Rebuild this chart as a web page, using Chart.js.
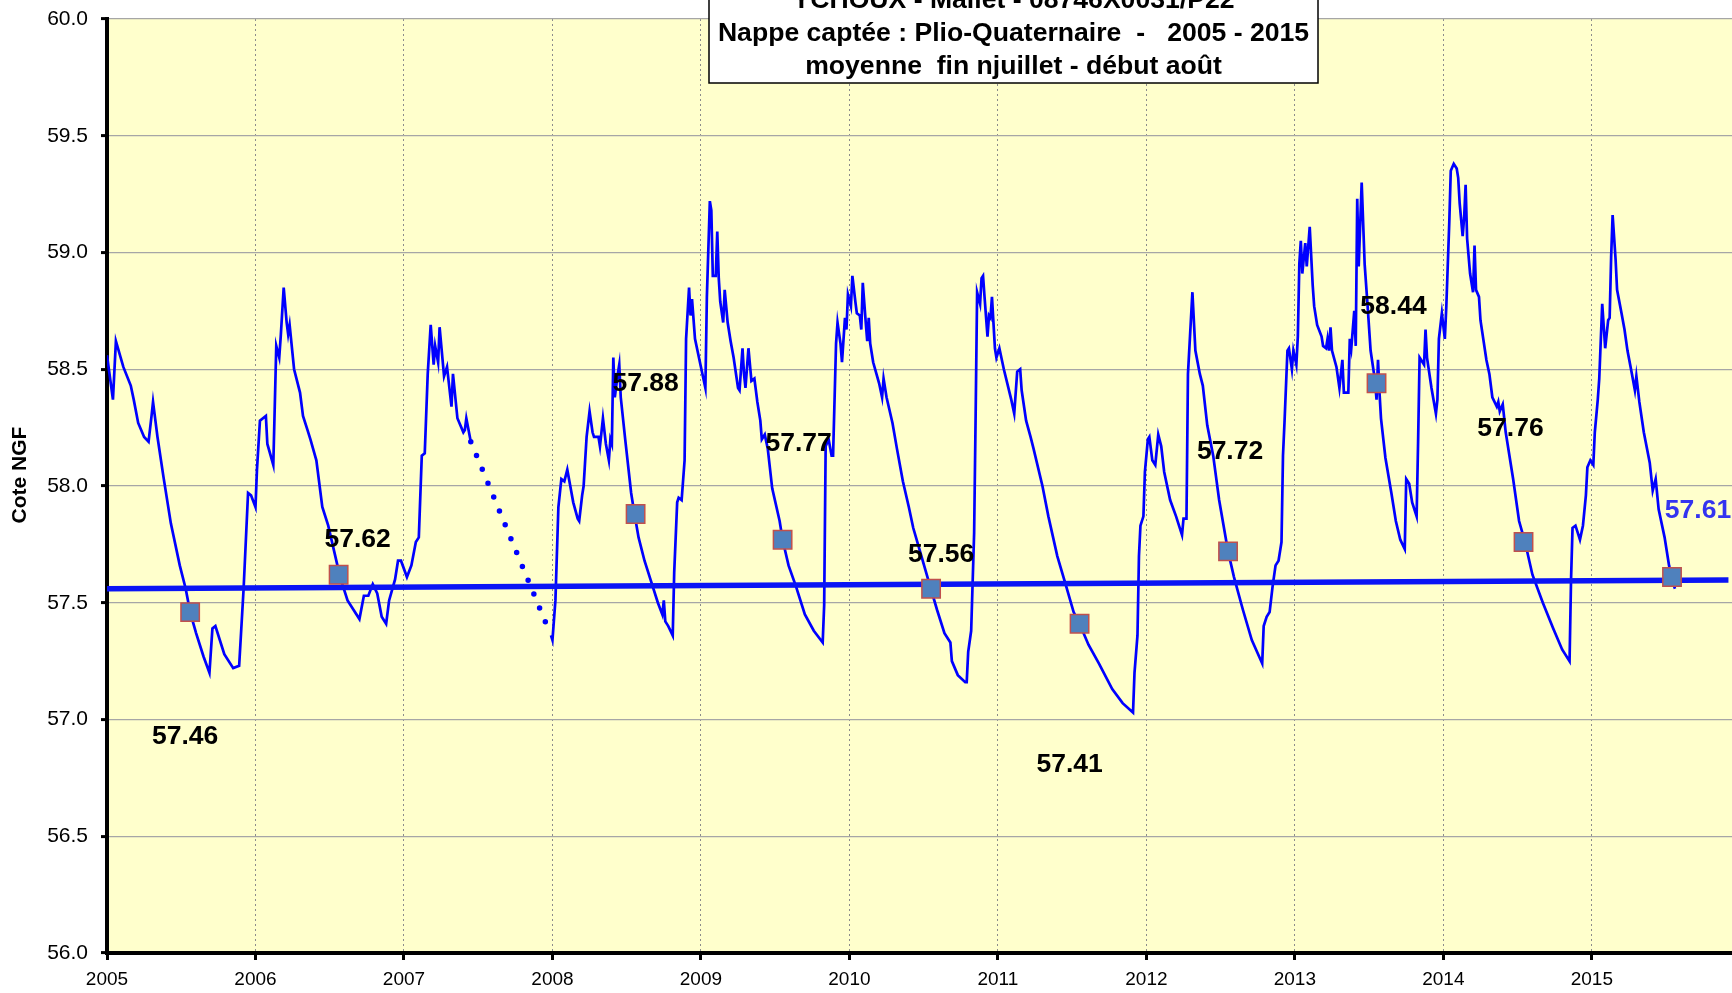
<!DOCTYPE html>
<html>
<head>
<meta charset="utf-8">
<script src="https://cdn.jsdelivr.net/npm/chart.js@4.4.1/dist/chart.umd.min.js"></script>
<style>
html, body { margin: 0; padding: 0; background: #fff; overflow: hidden; }
#wrap { width: 1732px; height: 993px; position: relative; }
#LevelChart { display: block; }
</style>
</head>
<body>
<div id="wrap"><canvas id="LevelChart"></canvas></div>
<script>
// Niveaux mesurés (année décimale / cote NGF), 2005 -> mi-2007
const levelYears2005 = [2005.00, 2005.04, 2005.06, 2005.11, 2005.16, 2005.18, 2005.21, 2005.25, 2005.28, 2005.30, 2005.31, 2005.34, 2005.38, 2005.43, 2005.49, 2005.53, 2005.56, 2005.60, 2005.65, 2005.69, 2005.71, 2005.73, 2005.79, 2005.85, 2005.89, 2005.92, 2005.95, 2005.97,
  2006.00, 2006.01, 2006.03, 2006.07, 2006.08, 2006.12, 2006.14, 2006.16, 2006.17, 2006.19, 2006.21, 2006.22, 2006.23, 2006.26, 2006.30, 2006.32, 2006.35, 2006.37, 2006.41, 2006.45, 2006.49, 2006.53, 2006.57, 2006.62, 2006.66, 2006.70, 2006.73, 2006.76, 2006.79, 2006.82, 2006.85, 2006.88, 2006.90, 2006.94, 2006.96, 2006.98,
  2007.02, 2007.05, 2007.08, 2007.10, 2007.12, 2007.14, 2007.16, 2007.18, 2007.20, 2007.21, 2007.23, 2007.24, 2007.27, 2007.29, 2007.32, 2007.33, 2007.36, 2007.40, 2007.41, 2007.42, 2007.45];
const levelValues2005 = [58.56, 58.37, 58.62, 58.51, 58.43, 58.37, 58.27, 58.21, 58.19, 58.30, 58.36, 58.21, 58.04, 57.84, 57.66, 57.56, 57.46, 57.37, 57.27, 57.20, 57.39, 57.40, 57.28, 57.22, 57.23, 57.56, 57.97, 57.96,
  57.91, 58.07, 58.28, 58.30, 58.18, 58.09, 58.60, 58.55, 58.64, 58.85, 58.70, 58.65, 58.69, 58.50, 58.40, 58.30, 58.24, 58.20, 58.11, 57.91, 57.83, 57.72, 57.61, 57.51, 57.47, 57.43, 57.53, 57.53, 57.58, 57.54, 57.44, 57.41, 57.51, 57.60, 57.68, 57.68,
  57.61, 57.66, 57.76, 57.78, 58.13, 58.14, 58.48, 58.69, 58.52, 58.60, 58.53, 58.68, 58.47, 58.51, 58.34, 58.48, 58.29, 58.23, 58.24, 58.29, 58.19];

// Lacune de mesures fin 2007 (tracé en pointillés)
const gapYears = [2007.45, 2007.99];
const gapValues = [58.19, 57.36];

// Niveaux mesurés, 2008 -> mi-2015
const levelYears2008 = [2007.99, 2008.00, 2008.02, 2008.04, 2008.06, 2008.08, 2008.10, 2008.12, 2008.14, 2008.17, 2008.18, 2008.20, 2008.21, 2008.23, 2008.25, 2008.27, 2008.28, 2008.31, 2008.32, 2008.34, 2008.36, 2008.38, 2008.39, 2008.40, 2008.41, 2008.42, 2008.44, 2008.45, 2008.46, 2008.49, 2008.53, 2008.55, 2008.58, 2008.62, 2008.66, 2008.71, 2008.74, 2008.75, 2008.76, 2008.78, 2008.81, 2008.82, 2008.84, 2008.85, 2008.87, 2008.89, 2008.90, 2008.92, 2008.93, 2008.94, 2008.96, 2008.99,
  2009.01, 2009.03, 2009.04, 2009.06, 2009.07, 2009.08, 2009.10, 2009.11, 2009.12, 2009.13, 2009.15, 2009.16, 2009.18, 2009.20, 2009.22, 2009.25, 2009.26, 2009.28, 2009.29, 2009.30, 2009.32, 2009.34, 2009.36, 2009.38, 2009.40, 2009.41, 2009.43, 2009.45, 2009.48, 2009.53, 2009.55, 2009.59, 2009.64, 2009.70, 2009.76, 2009.82, 2009.83, 2009.84, 2009.86, 2009.88, 2009.89, 2009.91, 2009.92, 2009.94, 2009.95, 2009.97, 2009.98, 2009.99,
  2010.01, 2010.02, 2010.04, 2010.05, 2010.07, 2010.08, 2010.09, 2010.11, 2010.12, 2010.13, 2010.14, 2010.16, 2010.20, 2010.22, 2010.23, 2010.25, 2010.29, 2010.32, 2010.36, 2010.40, 2010.43, 2010.48, 2010.53, 2010.59, 2010.64, 2010.68, 2010.69, 2010.73, 2010.78, 2010.79, 2010.80, 2010.82, 2010.84, 2010.85, 2010.86, 2010.88, 2010.89, 2010.90, 2010.91, 2010.93, 2010.94, 2010.95, 2010.96, 2010.98, 2010.99,
  2011.01, 2011.03, 2011.04, 2011.09, 2011.11, 2011.13, 2011.15, 2011.16, 2011.19, 2011.22, 2011.24, 2011.30, 2011.34, 2011.40, 2011.46, 2011.51, 2011.55, 2011.61, 2011.68, 2011.77, 2011.84, 2011.91, 2011.92, 2011.94, 2011.95, 2011.96, 2011.98, 2011.99,
  2012.01, 2012.02, 2012.04, 2012.06, 2012.08, 2012.10, 2012.12, 2012.16, 2012.20, 2012.24, 2012.25, 2012.27, 2012.28, 2012.31, 2012.33, 2012.36, 2012.38, 2012.41, 2012.45, 2012.49, 2012.55, 2012.59, 2012.65, 2012.71, 2012.78, 2012.79, 2012.81, 2012.83, 2012.85, 2012.87, 2012.89, 2012.91, 2012.92, 2012.93, 2012.95, 2012.96, 2012.98, 2012.99,
  2013.01, 2013.02, 2013.03, 2013.04, 2013.05, 2013.07, 2013.08, 2013.10, 2013.12, 2013.13, 2013.15, 2013.18, 2013.19, 2013.21, 2013.22, 2013.23, 2013.24, 2013.25, 2013.28, 2013.30, 2013.32, 2013.33, 2013.36, 2013.37, 2013.38, 2013.40, 2013.41, 2013.42, 2013.43, 2013.45, 2013.47, 2013.49, 2013.51, 2013.54, 2013.55, 2013.56, 2013.57, 2013.58, 2013.61, 2013.65, 2013.68, 2013.71, 2013.74, 2013.75, 2013.77, 2013.79, 2013.82, 2013.83, 2013.84, 2013.87, 2013.88, 2013.89, 2013.92, 2013.95, 2013.96, 2013.97, 2013.99,
  2014.01, 2014.02, 2014.04, 2014.05, 2014.07, 2014.09, 2014.10, 2014.11, 2014.13, 2014.14, 2014.15, 2014.16, 2014.18, 2014.20, 2014.21, 2014.22, 2014.24, 2014.25, 2014.29, 2014.31, 2014.33, 2014.36, 2014.37, 2014.38, 2014.40, 2014.42, 2014.47, 2014.51, 2014.55, 2014.60, 2014.67, 2014.74, 2014.80, 2014.85, 2014.86, 2014.87, 2014.89, 2014.92, 2014.94, 2014.96, 2014.97, 2014.99,
  2015.01, 2015.02, 2015.04, 2015.05, 2015.07, 2015.09, 2015.11, 2015.12, 2015.13, 2015.14, 2015.16, 2015.17, 2015.20, 2015.22, 2015.24, 2015.27, 2015.29, 2015.30, 2015.32, 2015.35, 2015.39, 2015.41, 2015.43, 2015.45, 2015.49, 2015.52, 2015.54, 2015.56];
const levelValues2008 = [57.36, 57.34, 57.51, 57.91, 58.03, 58.02, 58.07, 58.00, 57.93, 57.86, 57.85, 57.96, 58.00, 58.21, 58.32, 58.23, 58.21, 58.21, 58.17, 58.29, 58.18, 58.11, 58.20, 58.18, 58.55, 58.38, 58.48, 58.52, 58.38, 58.20, 57.97, 57.89, 57.78, 57.68, 57.60, 57.50, 57.45, 57.51, 57.42, 57.40, 57.36, 57.63, 57.93, 57.95, 57.94, 58.11, 58.63, 58.85, 58.73, 58.80, 58.63, 58.54,
  58.48, 58.42, 58.81, 59.22, 59.18, 58.90, 58.90, 59.09, 58.89, 58.79, 58.70, 58.84, 58.70, 58.62, 58.55, 58.42, 58.41, 58.59, 58.48, 58.42, 58.59, 58.45, 58.46, 58.36, 58.28, 58.20, 58.22, 58.16, 57.99, 57.85, 57.77, 57.66, 57.57, 57.45, 57.38, 57.33, 57.49, 58.17, 58.20, 58.13, 58.13, 58.61, 58.70, 58.61, 58.53, 58.72, 58.67, 58.82,
  58.77, 58.90, 58.79, 58.74, 58.73, 58.67, 58.87, 58.70, 58.62, 58.72, 58.61, 58.53, 58.44, 58.38, 58.46, 58.38, 58.27, 58.16, 58.02, 57.91, 57.82, 57.71, 57.60, 57.47, 57.37, 57.33, 57.25, 57.19, 57.16, 57.16, 57.29, 57.38, 57.80, 58.30, 58.83, 58.78, 58.89, 58.90, 58.81, 58.64, 58.73, 58.72, 58.81, 58.59, 58.55,
  58.59, 58.53, 58.50, 58.37, 58.31, 58.49, 58.50, 58.41, 58.28, 58.21, 58.16, 58.00, 57.87, 57.70, 57.57, 57.46, 57.41, 57.32, 57.24, 57.13, 57.07, 57.03, 57.20, 57.36, 57.70, 57.83, 57.87, 58.06,
  58.20, 58.21, 58.11, 58.09, 58.22, 58.17, 58.06, 57.94, 57.87, 57.79, 57.86, 57.86, 58.48, 58.83, 58.58, 58.48, 58.43, 58.26, 58.13, 57.94, 57.72, 57.61, 57.47, 57.34, 57.24, 57.40, 57.44, 57.46, 57.57, 57.66, 57.68, 57.76, 58.13, 58.27, 58.58, 58.59, 58.50, 58.58,
  58.52, 58.64, 58.95, 59.05, 58.91, 59.04, 58.94, 59.11, 58.86, 58.77, 58.69, 58.64, 58.60, 58.59, 58.63, 58.58, 58.68, 58.58, 58.51, 58.42, 58.54, 58.40, 58.40, 58.63, 58.59, 58.75, 58.60, 59.23, 58.94, 59.30, 58.95, 58.77, 58.58, 58.45, 58.37, 58.54, 58.40, 58.29, 58.12, 57.97, 57.85, 57.77, 57.73, 58.03, 58.01, 57.93, 57.87, 58.19, 58.55, 58.52, 58.67, 58.55, 58.42, 58.31, 58.37, 58.63, 58.74,
  58.63, 58.77, 59.13, 59.35, 59.38, 59.36, 59.32, 59.21, 59.07, 59.15, 59.29, 59.06, 58.91, 58.83, 59.03, 58.84, 58.81, 58.71, 58.54, 58.48, 58.38, 58.34, 58.36, 58.32, 58.35, 58.23, 58.03, 57.85, 57.76, 57.62, 57.50, 57.39, 57.30, 57.25, 57.60, 57.82, 57.83, 57.77, 57.83, 57.96, 58.08, 58.11,
  58.09, 58.23, 58.37, 58.46, 58.78, 58.59, 58.71, 58.72, 58.98, 59.16, 58.97, 58.84, 58.74, 58.67, 58.58, 58.48, 58.41, 58.47, 58.36, 58.23, 58.10, 57.98, 58.03, 57.90, 57.78, 57.66, 57.60, 57.56];

// Moyennes fin juillet - début août
const augustYears = [2005.56, 2006.56, 2008.56, 2009.55, 2010.55, 2011.55, 2012.55, 2013.55, 2014.54, 2015.54];
const augustLevels = [57.46, 57.62, 57.88, 57.77, 57.56, 57.41, 57.72, 58.44, 57.76, 57.61];

// Tendance linéaire
const trendYears = [2005.0, 2015.92];
const trendLevels = [57.56, 57.597];

// Axes
const yearTicks = [2005, 2006, 2007, 2008, 2009, 2010, 2011, 2012, 2013, 2014, 2015];
const titleLines = ['YCHOUX - Mallet - 08746X0031/P22', 'Nappe captée : Plio-Quaternaire  -   2005 - 2015', 'moyenne  fin njuillet - début août'];

function toPoints(xs, ys) {
    return xs.map((x, i) => ({x: x, y: ys[i]}));
}

// décalage des étiquettes par rapport au repère (px)
const labelShift = [[-5, 125], [19, -35], [10, -130], [16, -96], [10, -34], [-10, 141], [2, -100], [17, -77], [-13, -113], [26, -66]];

const decorPlugin = {
    id: 'decor',
    beforeDraw(chart) {
        const {ctx, chartArea: a} = chart;
        ctx.save();
        ctx.fillStyle = '#FFFFCC';
        ctx.fillRect(a.left, a.top, a.right - a.left, a.bottom - a.top);
        ctx.restore();
    },
    afterDatasetsDraw(chart) {
        const {ctx, scales} = chart;
        ctx.save();
        ctx.font = 'bold 26.5px "Liberation Sans", Arial, sans-serif';
        ctx.textAlign = 'center';
        ctx.textBaseline = 'middle';
        augustYears.forEach((yr, i) => {
            const px = scales.x.getPixelForValue(yr) + labelShift[i][0];
            const py = scales.y.getPixelForValue(augustLevels[i]) + labelShift[i][1];
            ctx.fillStyle = i === augustYears.length - 1 ? '#3333F0' : '#000';
            ctx.fillText(augustLevels[i].toFixed(2), px, py);
        });
        ctx.restore();
    },
    afterDraw(chart) {
        const ctx = chart.ctx;
        ctx.save();
        // titre de l'axe
        ctx.translate(20, 475);
        ctx.rotate(-Math.PI / 2);
        ctx.font = 'bold 21px "Liberation Sans", Arial, sans-serif';
        ctx.fillStyle = '#000';
        ctx.textAlign = 'center';
        ctx.textBaseline = 'middle';
        ctx.fillText('Cote NGF', 0, 0);
        ctx.restore();

        // cartouche du titre
        ctx.save();
        ctx.fillStyle = '#fff';
        ctx.fillRect(709, -5, 609, 88);
        ctx.strokeStyle = '#000';
        ctx.lineWidth = 1.5;
        ctx.strokeRect(709, -5, 609, 88);
        ctx.font = 'bold 26.6px "Liberation Sans", Arial, sans-serif';
        ctx.fillStyle = '#000';
        ctx.textAlign = 'center';
        ctx.textBaseline = 'alphabetic';
        [8, 41, 74].forEach((by, i) => ctx.fillText(titleLines[i], 1013.5, by));
        ctx.restore();
    }
};

const levelOptions = {
    responsive: true,
    maintainAspectRatio: false,
    animation: false,
    devicePixelRatio: 1,
    events: [],
    layout: { autoPadding: false, padding: { top: 19, left: 0, right: 0, bottom: 0 } },
    plugins: {
        legend: { display: false },
        tooltip: { enabled: false }
    },
    scales: {
        x: {
            type: 'linear',
            min: 2005,
            max: 2015.944,
            afterFit: (scale) => {
                scale.height = 40;
                scale.paddingLeft = 0;
                scale.paddingRight = 0;
            },
            afterBuildTicks: (scale) => { scale.ticks = yearTicks.map(v => ({value: v})); },
            ticks: {
                callback: (v) => String(v),
                color: '#000',
                font: { size: 19, family: '"Liberation Sans", Arial, sans-serif' },
                padding: 8,
                maxRotation: 0
            },
            grid: {
                color: '#8c8c8c',
                lineWidth: 1,
                tickColor: '#000',
                tickWidth: 3,
                tickLength: 7
            },
            border: { color: '#000', width: 4, dash: [2, 3] }
        },
        y: {
            min: 56,
            max: 60,
            afterFit: (scale) => {
                scale.width = 107;
                scale.paddingTop = 0;
                scale.paddingBottom = 0;
            },
            ticks: {
                stepSize: 0.5,
                callback: (v) => v.toFixed(1),
                color: '#000',
                font: { size: 21, family: '"Liberation Sans", Arial, sans-serif' },
                padding: 13
            },
            grid: {
                color: '#a6a6a6',
                lineWidth: 1.2,
                tickColor: '#000',
                tickWidth: 3,
                tickLength: 6
            },
            border: { color: '#000', width: 4 }
        }
    }
};

const levelData = {
    datasets: [{
        label: 'Moyenne fin juillet - début août',
        data: toPoints(augustYears, augustLevels),
        showLine: false,
        pointStyle: 'rect',
        pointRadius: 13,
        backgroundColor: '#4F81BD',
        borderColor: '#C0504D',
        borderWidth: 1.5
    }, {
        label: 'Tendance',
        data: toPoints(trendYears, trendLevels),
        borderColor: '#0A14F5',
        borderWidth: 5.5,
        pointRadius: 0
    }, {
        label: 'Lacune',
        data: toPoints(gapYears, gapValues),
        borderColor: '#0000FF',
        borderWidth: 5.5,
        borderCapStyle: 'round',
        borderDash: [0, 15],
        pointRadius: 0
    }, {
        label: 'Niveau 2008-2015',
        data: toPoints(levelYears2008, levelValues2008),
        borderColor: '#0000FF',
        borderWidth: 2.7,
        pointRadius: 0,
        tension: 0
    }, {
        label: 'Niveau 2005-2007',
        data: toPoints(levelYears2005, levelValues2005),
        borderColor: '#0000FF',
        borderWidth: 2.7,
        pointRadius: 0,
        tension: 0
    }]
};

document.addEventListener('DOMContentLoaded', function() {
    const levelCtx = document.getElementById('LevelChart').getContext('2d');
    const levelChart = new Chart(levelCtx, {
        type: 'line',
        data: levelData,
        options: levelOptions,
        plugins: [decorPlugin]
    });
});
</script>
</body>
</html>
